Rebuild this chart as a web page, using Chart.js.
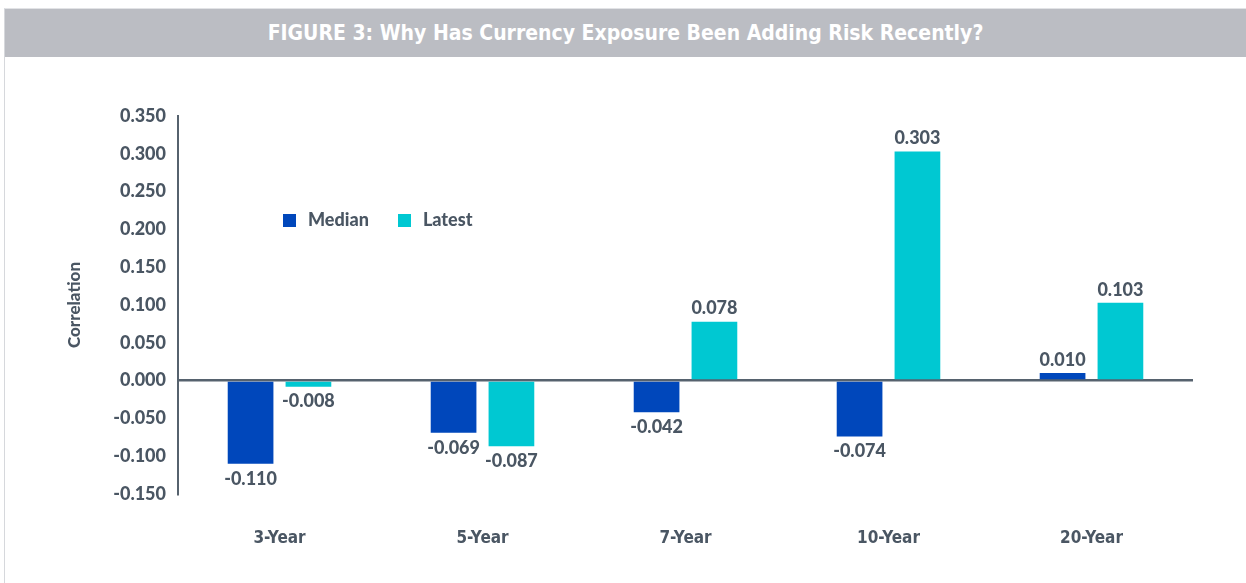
<!DOCTYPE html>
<html>
<head>
  <title>Figure 3</title>
  <script src="https://cdn.jsdelivr.net/npm/chart.js"></script>
  <style>
    body {
      margin: 0;
      background: #fff;
      font-family: Lato, Arial, sans-serif;
    }
    #wrap {
      position: relative;
      width: 1246px;
      height: 583px;
      overflow: hidden;
    }
    #frame {
      position: absolute;
      left: 4px;
      top: 8px;
      width: 1250px;
      height: 600px;
      border-left: 1px solid #d6d8dc;
      border-top: 1px solid #e2e3e6;
    }
    #header {
      position: absolute;
      left: 5px;
      top: 9px;
      width: 1241px;
      height: 48px;
      background: #bbbdc3;
      color: #fff;
      font-family: "Liberation Sans Narrow", "DejaVu Sans Condensed", Arial, sans-serif;
      font-weight: bold;
      font-size: 21px;
      line-height: 48px;
      text-align: center;
    }
    #legend {
      position: absolute;
      left: 283px;
      top: 208px;
      font-weight: 900;
      font-size: 18px;
      color: #4a5663;
    }
    #legend span.box {
      display: inline-block;
      width: 13px;
      height: 13px;
      margin-right: 12px;
      vertical-align: -1px;
    }
    #legend span.item { margin-right: 29px; }
    canvas { position: absolute; left: 0; top: 0; }
  </style>
</head>
<body>
<div id="wrap">
  <div id="frame"></div>
  <div id="header">FIGURE 3: Why Has Currency Exposure Been Adding Risk Recently?</div>
  <canvas id="chart" width="1246" height="583"></canvas>
  <div id="legend"></div>
</div>

<script>
  const categories = ["3-Year", "5-Year", "7-Year", "10-Year", "20-Year"];
  const medianValues = [-0.110, -0.069, -0.042, -0.074, 0.010];
  const latestValues = [-0.008, -0.087, 0.078, 0.303, 0.103];
  const seriesNames = ["Median", "Latest"];
  const seriesColors = ["#0047bb", "#00c8d2"];

  const textColor = "#4a5663";
  const axisColor = "#56626e";

  // html legend
  document.getElementById("legend").innerHTML = seriesNames.map(function (n, i) {
    return '<span class="item"><span class="box" style="background:' + seriesColors[i] + '"></span>' + n + '</span>';
  }).join("");

  // value labels above / below bars
  const valueLabels = {
    id: "valueLabels",
    afterDatasetsDraw(chart) {
      const ctx = chart.ctx;
      ctx.save();
      ctx.font = "900 18px Lato, Arial, sans-serif";
      ctx.fillStyle = textColor;
      ctx.textAlign = "center";
      chart.data.datasets.forEach(function (ds, di) {
        chart.getDatasetMeta(di).data.forEach(function (bar, i) {
          const v = ds.data[i];
          if (v >= 0) {
            ctx.textBaseline = "bottom";
            ctx.fillText(v.toFixed(3), bar.x, bar.y - 4);
          } else {
            ctx.textBaseline = "top";
            ctx.fillText(v.toFixed(3), bar.x, bar.y + 6);
          }
        });
      });
      ctx.restore();
    }
  };

  new Chart(document.getElementById("chart"), {
    type: "bar",
    data: {
      labels: categories,
      datasets: [
        { label: seriesNames[0], data: medianValues, backgroundColor: seriesColors[0] },
        { label: seriesNames[1], data: latestValues, backgroundColor: seriesColors[1] }
      ]
    },
    options: {
      responsive: false,
      animation: false,
      layout: { padding: { top: 116, right: 53, left: 0, bottom: 0 } },
      datasets: {
        bar: { categoryPercentage: 0.57, barPercentage: 0.79 }
      },
      plugins: {
        legend: { display: false },
        tooltip: { enabled: false }
      },
      scales: {
        x: {
          grid: { display: false, drawTicks: false },
          border: { display: false },
          ticks: {
            color: textColor,
            padding: 34,
            font: { family: "'Liberation Sans Narrow', 'DejaVu Sans Condensed', Arial", weight: "bold", size: 17 }
          },
          afterFit(scale) { scale.height = 89; }
        },
        y: {
          min: -0.15,
          max: 0.35,
          ticks: {
            stepSize: 0.05,
            color: textColor,
            padding: 12,
            font: { family: "Lato, Arial", weight: 900, size: 18 },
            callback: function (v) { return Number(v).toFixed(3); }
          },
          grid: {
            drawTicks: false,
            lineWidth: 2.5,
            color: function (c) {
              return c.tick && Math.abs(c.tick.value) < 1e-9 ? axisColor : "rgba(0,0,0,0)";
            }
          },
          border: { display: true, color: axisColor, width: 2 },
          title: {
            display: true,
            text: "Correlation",
            color: textColor,
            padding: { top: 64 },
            font: { family: "Lato, Arial", weight: 900, size: 17 }
          },
          afterFit(scale) { scale.width = 178; }
        }
      }
    },
    plugins: [valueLabels]
  });
</script>
</body>
</html>
